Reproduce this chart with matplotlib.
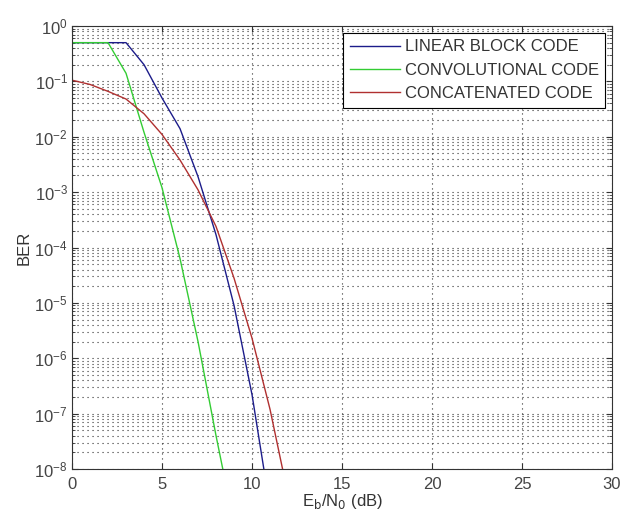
import numpy as np
import matplotlib
matplotlib.use('Agg')
import matplotlib.pyplot as plt
from matplotlib.ticker import LogLocator, FixedLocator

plt.rcParams['font.family'] = ['Liberation Sans', 'DejaVu Sans']

# Eb/N0 points (dB) and BER
ebn0 = [0, 1, 2, 3, 4, 5, 6, 7, 8, 9, 10, 11, 12]
ber_block = [0.5, 0.5, 0.5, 0.5, 0.2, 0.05, 0.014, 1.9e-3, 1.7e-4, 9e-6, 2.2e-7, 2e-9, 1e-11]
ber_conv = [0.5, 0.5, 0.5, 0.14, 1.2e-2, 1.2e-3, 6.3e-5, 2e-6, 4e-8, 1e-9, 1e-11, 1e-13, 1e-15]
ber_concat = [0.105, 0.088, 0.066, 0.048, 0.026, 0.011, 3.8e-3, 1.1e-3, 2.4e-4, 2.8e-5, 2.3e-6, 1.2e-7, 3.4e-9]

labels = ['LINEAR BLOCK CODE', 'CONVOLUTIONAL CODE', 'CONCATENATED CODE']
colors = ['#1c1c8a', '#33cc33', '#b03030']

fig = plt.figure(figsize=(6.21, 5.2), dpi=100)
ax = fig.add_axes([0.116, 0.098, 0.8695, 0.852])

for ber, lab, c in zip([ber_block, ber_conv, ber_concat], labels, colors):
    ax.semilogy(ebn0, ber, color=c, linewidth=1.0, label=lab)

ax.set_xlim(0, 30)
ax.set_ylim(1e-8, 1)
ax.xaxis.set_major_locator(FixedLocator([0, 5, 10, 15, 20, 25, 30]))
ax.yaxis.set_major_locator(LogLocator(base=10, numticks=20))
ax.yaxis.set_minor_locator(LogLocator(base=10, subs=np.arange(2, 10), numticks=20))
ax.yaxis.set_minor_formatter(plt.NullFormatter())

dots = (0, (1, 3.5))
ax.grid(True, which='major', linestyle=dots, color='#303030', linewidth=0.8)
ax.grid(True, which='minor', axis='y', linestyle=dots, color='#303030', linewidth=0.8)

ax.tick_params(which='both', direction='in', labelsize=12, top=True, right=True,
               colors='#333333', labelcolor='#444444')
ax.tick_params(which='major', length=4)
ax.tick_params(axis='x', which='major', pad=6)
ax.tick_params(axis='y', which='major', pad=3)
ax.tick_params(which='minor', length=2)
for s in ax.spines.values():
    s.set_color('#333333')

ax.set_xlabel('E$_\\mathrm{b}$/N$_\\mathrm{0}$ (dB)', fontsize=12, color='#333333', labelpad=0)
ax.set_ylabel('BER', fontsize=12, color='#333333', labelpad=2)

leg = ax.legend(loc='upper right', fontsize=12, frameon=True, fancybox=False,
                edgecolor='black', framealpha=1, borderaxespad=0.4,
                handlelength=3.0, labelspacing=0.5, handletextpad=0.3)
leg.get_frame().set_linewidth(0.8)
for t in leg.get_texts():
    t.set_color('#333333')

fig.savefig('out.png', dpi=100)
